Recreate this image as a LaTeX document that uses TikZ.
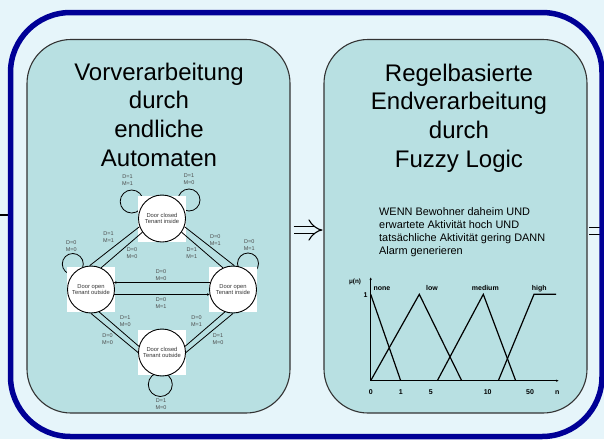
\documentclass[tikz,border=0pt]{standalone}
\usepackage{fontspec}
\setmainfont{Liberation Sans}
\usetikzlibrary{arrows.meta}
\definecolor{bgcyan}{RGB}{230,245,250}
\definecolor{panelteal}{RGB}{184,224,226}
\definecolor{frameblue}{RGB}{0,0,150}
\tikzstyle{panel} = [rectangle, rounded corners=44pt, minimum width=263pt, minimum height=373.5pt, draw=black!80, line width=1.1pt, fill=panelteal]
\tikzstyle{title} = [align=center, inner sep=0pt, anchor=north, font=\fontsize{24}{28.9}\selectfont]
\tikzstyle{rule} = [align=left, inner sep=0pt, anchor=north west, font=\fontsize{10.9}{12.8}\selectfont]
\tikzstyle{statebox} = [rectangle, fill=white, minimum width=47.6pt, minimum height=45.6pt, inner sep=0pt]
\tikzstyle{state} = [circle, draw=black, line width=0.9pt, minimum size=47pt, inner sep=0pt, align=center, text=black!80, font=\fontsize{5.8}{6.7}\selectfont]
\tikzstyle{cond} = [align=center, inner sep=0pt, text=black!70, font=\fontsize{5.5}{7}\selectfont]
\tikzstyle{trans} = [line width=0.8pt]
\tikzstyle{selfloop} = [line width=0.8pt]
\tikzstyle{fuzzy} = [line width=1.2pt]
\tikzstyle{axis} = [line width=0.9pt, -{Stealth[length=2.5pt,width=2.2pt]}]
\tikzstyle{axlabel} = [inner sep=0pt, anchor=base, font=\bfseries\fontsize{7}{8}\selectfont]
\tikzstyle{implarrow} = [double=bgcyan, double distance=6.5pt, line width=1.1pt, -{Implies}, shorten <=3pt, shorten >=1pt]

\begin{document}
\begin{tikzpicture}[x=1pt, y=-1pt]
    \useasboundingbox (0,0) rectangle (604,439);
    \fill[bgcyan] (0,0) rectangle (604,439);

    % cut-off arrows at the picture borders
    \coordinate (inleft) at (0,215);
    \coordinate (inright) at (10,215);
    \draw[line width=2.6pt] (inleft) -- (inright);
    \coordinate (outleft) at (589,231);
    \coordinate (outright) at (606,231);
    \draw[double=bgcyan, double distance=6.5pt, line width=1.1pt] (outleft) -- (outright);

    % outer frame
    \draw[frameblue, line width=5.5pt, rounded corners=60pt] (10.5,12.5) rectangle (602,436.5);

    \node (vorv) [panel] at (158.5,226.25) {};
    \node (regel) [panel] at (455.5,226.25) {};
    \draw[implarrow] ([yshift=-3.75pt]vorv.east) -- ([yshift=-3.75pt]regel.west);

    \node (vorvtitle) [title] at (159,62.5) {Vorverarbeitung\\durch\\endliche\\Automaten};
    \node (regeltitle) [title] at (459,63.5) {Regelbasierte\\Endverarbeitung\\durch\\Fuzzy Logic};

    % automaton
    \foreach \cx/\cy/\r in {131.7/201.5/11.5, 189/200/11, 72.8/264/10.5, 248/263.5/10.5, 160.3/384.5/12}
        \draw[selfloop] (\cx,\cy) circle [radius=\r pt];

    \node (box-dci) [statebox] at (162,218.8) {};
    \node (box-dot) [statebox] at (91,289.5) {};
    \node (box-doi) [statebox] at (233,289.5) {};
    \node (box-dco) [statebox] at (162,352.5) {};

    \node (dci) [state] at (162,218.5) {Door closed\\Tenant inside};
    \node (dot) [state] at (91,289.5) {Door open\\Tenant outside};
    \node (doi) [state] at (233,289.5) {Door open\\Tenant inside};
    \node (dco) [state] at (162,352.5) {Door closed\\Tenant outside};

    \draw[trans] (dci.200) -- (dot.93);
    \draw[trans] (dci.215) -- (dot.65);
    \draw[trans] (dci.340) -- (doi.87);
    \draw[trans] (dci.325) -- (doi.115);
    \draw[trans, -{Stealth[length=2.5pt,width=2.5pt]}] (doi.163) -- (dot.17);
    \draw[trans, -{Stealth[length=2.5pt,width=2.5pt]}] (dot.348) -- (doi.192);
    \draw[trans] (dot.270) -- (dco.180);
    \draw[trans] (dot.290) -- (dco.165);
    \draw[trans] (doi.270) -- (dco.0);
    \draw[trans] (doi.250) -- (dco.15);

    \node (c1) [cond] at (127.5,180.2) {D=1\\M=1};
    \node (c2) [cond] at (189,179.3) {D=1\\M=0};
    \node (c3) [cond] at (71.3,246.2) {D=0\\M=0};
    \node (c4) [cond] at (249.2,245.2) {D=0\\M=1};
    \node (c5) [cond] at (161,403.7) {D=1\\M=0};
    \node (c6) [cond] at (108.6,237) {D=1\\M=1};
    \node (c7) [cond] at (132,253.2) {D=0\\M=0};
    \node (c8) [cond] at (215.3,240.2) {D=0\\M=1};
    \node (c9) [cond] at (191.8,253.2) {D=1\\M=1};
    \node (c10) [cond] at (161,275.3) {D=0\\M=0};
    \node (c11) [cond] at (161,303.3) {D=0\\M=1};
    \node (c12) [cond] at (125.2,321.3) {D=1\\M=0};
    \node (c13) [cond] at (107.5,339.2) {D=0\\M=0};
    \node (c14) [cond] at (196.5,321.3) {D=0\\M=1};
    \node (c15) [cond] at (218,339.2) {D=1\\M=0};

    % fuzzy rule and membership functions
    \node (rule) [rule] at (379,207.5) {WENN Bewohner daheim UND\\erwartete Aktivität hoch UND\\tatsächliche Aktivität gering DANN\\Alarm generieren};

    \coordinate (o) at (370.7,380.7);
    \draw[axis] (o) -- (370.7,277.5);
    \draw[axis] (o) -- (558.5,380.7);
    \draw[fuzzy] (370.7,294.3) -- (400.7,380.7);
    \draw[fuzzy] (370.7,380.7) -- (419.3,294.3) -- (461.7,380.7);
    \draw[fuzzy] (437.3,380.7) -- (483.3,294.3) -- (515.7,380.7);
    \draw[fuzzy] (498.3,380.7) -- (534,294.3) -- (556,294.3);

    \node (mu) [axlabel, font=\bfseries\fontsize{6.3}{7}\selectfont] at (355,283) {μ(n)};
    \node (one) [axlabel] at (365.5,297.5) {1};
    \foreach \x/\t in {382/none, 432/low, 485.3/medium, 539.2/high}
        \node (lbl-\t) [axlabel] at (\x,290.5) {\t};
    \foreach \x/\t [count=\i] in {370.7/0, 400.7/1, 430.7/5, 487.7/10, 530/50, 557.3/n}
        \node (tick-\i) [axlabel] at (\x,394.2) {\t};
\end{tikzpicture}
\end{document}
